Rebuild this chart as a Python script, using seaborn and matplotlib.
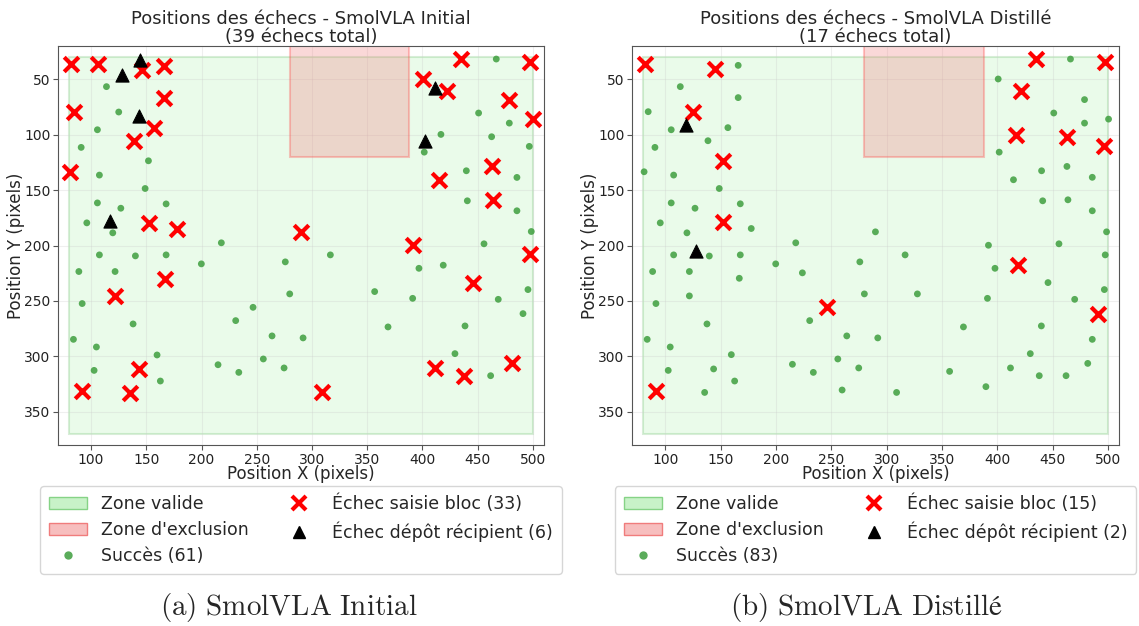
import numpy as np
import pandas as pd
import matplotlib
matplotlib.use("Agg")
import matplotlib.pyplot as plt
from matplotlib.patches import Rectangle, Patch
from matplotlib.lines import Line2D
import seaborn as sns

# ---------------- data ----------------
# Zones (x0, x1, y0, y1)
valid_zone = [80, 500, 30, 370]
excl_zone = [280, 388, 0, 120]

# SmolVLA Initial
init_succ_x = [113.9, 125.0, 105.7, 91.0, 151.9, 107.5, 148.9, 105.7, 126.9, 167.9,
               96.1, 119.6, 217.9, 107.5, 140.1, 167.9, 88.9, 121.7, 199.8, 275.8,
               91.9, 279.8, 246.6, 230.9, 138.0, 84.0, 263.8, 291.9, 104.8, 159.7,
               255.9, 102.7, 214.9, 233.7, 274.7, 162.7, 466.8, 450.8, 478.6, 416.7,
               462.6, 496.7, 401.6, 439.7, 485.5, 440.6, 485.5, 498.5, 455.7, 316.6,
               396.8, 418.8, 356.7, 391.1, 495.5, 468.6, 491.0, 368.8, 438.5, 429.4,
               461.7]
init_succ_y = [56.6, 79.5, 95.5, 111.4, 123.5, 136.4, 148.5, 161.5, 166.3, 162.4,
               179.5, 188.5, 197.5, 208.4, 209.3, 208.4, 223.4, 223.4, 216.5, 214.7,
               252.3, 243.6, 255.7, 267.7, 270.7, 284.6, 281.5, 283.3, 291.5, 298.7,
               302.3, 312.6, 307.5, 314.4, 310.4, 322.2, 31.7, 80.4, 89.5, 99.7,
               101.8, 110.5, 115.7, 132.5, 138.5, 159.6, 168.6, 187.3, 198.4, 208.4,
               220.5, 217.7, 241.5, 247.6, 239.7, 248.5, 261.4, 273.4, 272.5, 297.5,
               317.4]
init_grasp_x = [81.9, 106.6, 145.9, 165.8, 165.8, 84.6, 156.7, 138.9, 81.0, 152.8,
                177.5, 289.8, 167.0, 121.7, 143.7, 91.9, 135.6, 434.8, 497.3, 400.7,
                421.9, 478.6, 500.3, 462.9, 414.7, 463.5, 391.7, 497.3, 445.4, 411.3,
                437.6, 481.3, 308.8]
init_grasp_y = [35.8, 35.8, 41.2, 37.6, 66.5, 79.5, 93.6, 105.7, 133.7, 179.5,
                184.9, 187.9, 229.8, 245.7, 311.3, 331.6, 332.7, 31.3, 34.0, 50.0,
                60.8, 69.0, 85.5, 128.6, 140.6, 158.7, 199.7, 207.5, 233.4, 310.4,
                317.4, 306.3, 332.5]
init_place_x = [144.3, 127.8, 143.1, 116.9, 411.6, 402.5]
init_place_y = [32.2, 45.8, 82.8, 177.4, 57.5, 105.7]

# SmolVLA Distillé
dist_succ_x = [165.9, 113.6, 165.9, 84.6, 105.4, 156.6, 138.6, 90.7, 80.9, 107.6,
               148.8, 105.4, 126.9, 167.8, 95.5, 119.6, 177.7, 217.9, 107.6, 139.8,
               167.8, 199.8, 88.6, 121.8, 166.9, 223.9, 121.8, 91.6, 230.5, 137.7,
               83.7, 264.0, 104.5, 159.7, 255.9, 102.7, 143.7, 214.9, 233.8, 274.8,
               162.7, 135.6, 259.8, 466.1, 400.8, 478.8, 451.0, 478.8, 500.5, 401.7,
               440.0, 462.9, 414.6, 485.8, 441.0, 463.8, 485.8, 289.9, 498.7, 392.0,
               455.7, 316.7, 497.5, 275.8, 397.9, 445.8, 279.9, 327.8, 391.1, 469.9,
               496.7, 369.4, 439.8, 292.0, 485.8, 429.8, 356.9, 411.9, 437.9, 462.1,
               481.7, 389.7, 309.0]
dist_succ_y = [37.4, 56.6, 66.5, 79.2, 95.5, 93.6, 105.4, 111.4, 133.4, 136.4,
               148.5, 161.5, 166.3, 162.3, 179.5, 188.5, 184.6, 197.5, 208.4, 209.4,
               208.4, 216.5, 223.4, 223.4, 229.5, 224.6, 245.4, 252.3, 267.7, 270.7,
               284.6, 281.5, 291.5, 298.4, 302.3, 312.6, 311.3, 307.1, 314.4, 310.4,
               322.2, 332.5, 330.3, 31.7, 49.7, 68.3, 80.4, 89.5, 85.9, 115.7,
               132.5, 128.6, 140.6, 138.4, 159.6, 158.7, 168.6, 187.6, 187.6, 199.7,
               198.4, 208.4, 208.4, 214.7, 220.5, 233.4, 243.6, 243.6, 247.6, 248.5,
               239.7, 273.4, 272.5, 283.3, 284.6, 297.5, 313.5, 310.4, 317.4, 317.4,
               306.3, 327.3, 332.5]
dist_grasp_x = [81.9, 145.2, 125.0, 151.9, 152.4, 246.5, 91.6, 434.9, 497.5, 421.6,
                416.8, 462.9, 496.6, 419.1, 490.6]
dist_grasp_y = [35.8, 40.3, 79.5, 123.5, 178.9, 255.7, 331.6, 31.3, 34.0, 60.8,
                100.0, 101.8, 110.5, 217.8, 261.6]
dist_place_x = [118.4, 127.7]
dist_place_y = [91.6, 205.1]

titles = ["Positions des échecs - SmolVLA Initial", "Positions des échecs - SmolVLA Distillé"]
captions = [r"$\mathrm{(a)\ SmolVLA\ Initial}$", r"$\mathrm{(b)\ SmolVLA\ Distillé}$"]
xticks = [100, 150, 200, 250, 300, 350, 400, 450, 500]
yticks = [50, 100, 150, 200, 250, 300, 350]

# ---------------- style ----------------
sns.set_style("ticks")
plt.rcParams["font.family"] = ["DejaVu Sans"]
plt.rcParams["mathtext.fontset"] = "cm"

fig = plt.figure(figsize=(11.39, 6.26), dpi=100)
ax1 = fig.add_axes([0.0509, 0.289, 0.4267, 0.6374])
ax2 = fig.add_axes([0.5549, 0.289, 0.4276, 0.6374])

panels = [
    (ax1, init_succ_x, init_succ_y, init_grasp_x, init_grasp_y, init_place_x, init_place_y),
    (ax2, dist_succ_x, dist_succ_y, dist_grasp_x, dist_grasp_y, dist_place_x, dist_place_y),
]

succ_color = "#3E9E3E"

for i, (ax, sx, sy, gx, gy, px, py) in enumerate(panels):
    ax.add_patch(Rectangle((valid_zone[0], valid_zone[2]), valid_zone[1] - valid_zone[0],
                           valid_zone[3] - valid_zone[2], facecolor="#90EE90", alpha=0.18,
                           edgecolor="#2ca02c", linewidth=1.5, zorder=0.5))
    ax.add_patch(Rectangle((excl_zone[0], excl_zone[2]), excl_zone[1] - excl_zone[0],
                           excl_zone[3] - excl_zone[2], facecolor="#F08080", alpha=0.3,
                           edgecolor="#FF4040", linewidth=1.5, zorder=0.6))

    n_fail = len(gx) + len(px)
    sns.scatterplot(x=sx, y=sy, ax=ax, color=succ_color, alpha=0.85, s=24,
                    edgecolor="none", zorder=3, legend=False)
    sns.scatterplot(x=gx, y=gy, ax=ax, color="red", marker="x", s=110,
                    linewidth=3, zorder=4, legend=False)
    sns.scatterplot(x=px, y=py, ax=ax, color="black", marker="^", s=90,
                    edgecolor="black", zorder=4, legend=False)

    ax.set_xlim(70, 510)
    ax.set_ylim(380, 20)
    ax.set_xticks(xticks)
    ax.set_yticks(yticks)
    ax.tick_params(labelsize=10, colors="#222222", length=3.5, color="#555555", pad=2)
    ax.grid(True, alpha=0.3)
    for sp in ax.spines.values():
        sp.set_visible(True)
        sp.set_color("#555555")
    ax.set_xlabel("Position X (pixels)", fontsize=12)
    ax.set_ylabel("Position Y (pixels)", fontsize=12)
    ax.xaxis.set_label_coords(0.5, -0.05)
    ax.yaxis.set_label_coords(-0.068, 0.5)
    ax.set_title(f"{titles[i]}\n({n_fail} échecs total)", fontsize=13, pad=3, linespacing=1.0)

    handles = [
        Patch(facecolor="#C8F2C8", edgecolor="#86D386", label="Zone valide"),
        Patch(facecolor="#F7BEBE", edgecolor="#F07C7C", label="Zone d'exclusion"),
        Line2D([], [], linestyle="none", marker="o", markersize=6, color=succ_color,
               alpha=0.85, markeredgewidth=0, label=f"Succès ({len(sx)})"),
        Line2D([], [], linestyle="none", marker="x", markersize=10.5, color="red",
               markeredgewidth=3, label=f"Échec saisie bloc ({len(gx)})"),
        Line2D([], [], linestyle="none", marker="^", markersize=9, color="black",
               label=f"Échec dépôt récipient ({len(px)})"),
    ]
    ax.legend(handles=handles, loc="upper center", bbox_to_anchor=(0.5, -0.103),
              borderaxespad=0, ncol=2, fontsize=12.5, frameon=True,
              columnspacing=1.8, handlelength=2.2, borderpad=0.5, labelspacing=0.45)

fig.text(0.254, 0.030, captions[0], fontsize=21, ha="center", va="center")
fig.text(0.761, 0.030, captions[1], fontsize=21, ha="center", va="center")

fig.savefig("out.png", dpi=100)
